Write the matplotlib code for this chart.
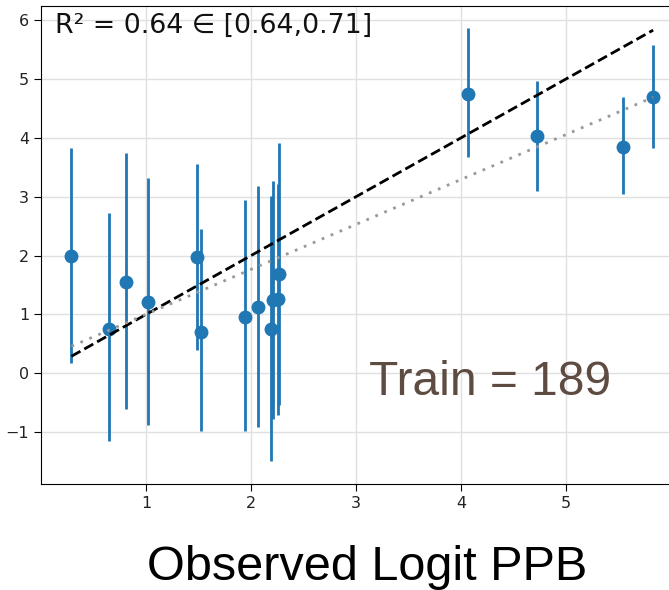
import numpy as np
import matplotlib
matplotlib.use("Agg")
import matplotlib.pyplot as plt

# observed vs predicted, with error bar ends
observed = [0.29, 0.65, 0.81, 1.02, 1.49, 1.52, 1.94, 2.07, 2.19, 2.21, 2.26, 2.27,
            4.07, 4.72, 5.54, 5.83]
predicted = [1.99, 0.75, 1.55, 1.22, 1.97, 0.71, 0.95, 1.12, 0.75, 1.24, 1.26, 1.68,
             4.75, 4.03, 3.85, 4.69]
err_top = [3.82, 2.72, 3.75, 3.31, 3.55, 2.45, 2.94, 3.19, 3.02, 3.26, 3.22, 3.91,
           5.87, 4.97, 4.69, 5.57]
err_bottom = [0.17, -1.15, -0.61, -0.87, 0.39, -0.98, -0.98, -0.92, -1.49, -0.78, -0.70, -0.54,
              3.67, 3.09, 3.04, 3.82]

# fitted line (dotted) end values
fit_x = [0.29, 5.83]
fit_y = [0.46, 4.69]

x = np.array(observed)
y = np.array(predicted)
yerr = [y - np.array(err_bottom), np.array(err_top) - y]

fig = plt.figure(figsize=(6.69, 5.90), dpi=100)
ax = fig.add_axes([41 / 669, 106 / 590, 630 / 669, 478 / 590])

ax.grid(True, color="#e0e0e0", linewidth=1)
ax.set_axisbelow(True)

ax.errorbar(x, y, yerr=yerr, fmt="o", color="#1f77b4", markersize=9,
            elinewidth=2, capsize=0, zorder=3)

# identity line
ax.plot([x.min(), x.max()], [x.min(), x.max()], "k--", linewidth=2, zorder=4)
# regression fit
ax.plot(fit_x, fit_y, linestyle=(0, (1, 2.5)), color="#999999", linewidth=2, zorder=4)

ax.set_xlim(0.0, 6.0)
ax.set_ylim(-1.88, 6.24)
ax.set_xticks([1, 2, 3, 4, 5])
ax.set_yticks([-1, 0, 1, 2, 3, 4, 5, 6])
ax.tick_params(labelsize=11.5, labelcolor="#222222", length=5)
ax.spines["right"].set_visible(False)

ax.text(0.022, 0.985, "R² = 0.64 ∈ [0.64,0.71]", transform=ax.transAxes,
        fontsize=19.3, va="top", ha="left", color="#111111")
ax.text(3.12, -0.37, "Train = 189", fontsize=34.5, family="Liberation Sans",
        color="#5e4c42", va="baseline")

fig.text(367 / 669, 10 / 590, "Observed Logit PPB", fontsize=35,
         family="Liberation Sans", ha="center", va="baseline")

fig.savefig("out.png", dpi=100)
